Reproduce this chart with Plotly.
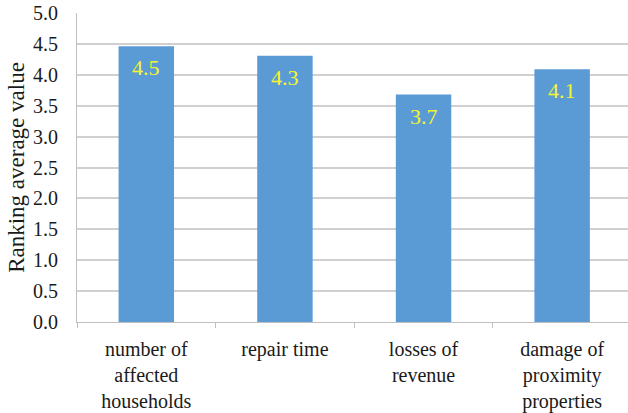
import plotly.graph_objects as go

categories = ["number of<br>affected<br>households", "repair time",
              "losses of<br>revenue", "damage of<br>proximity<br>properties"]
values = [4.46, 4.31, 3.68, 4.09]
labels = ["4.5", "4.3", "3.7", "4.1"]
y_ticks = [0, 0.5, 1.0, 1.5, 2.0, 2.5, 3.0, 3.5, 4.0, 4.5, 5.0]

SERIF = "Times New Roman, Liberation Serif, DejaVu Serif, Noto Serif, serif"

fig = go.Figure()
fig.add_trace(go.Bar(x=categories, y=values, width=0.4,
                     marker=dict(color="#5b9bd5", line=dict(width=0)),
                     hoverinfo="skip"))

for c, v, t in zip(categories, values, labels):
    fig.add_annotation(x=c, y=v, text=t, showarrow=False, yanchor="top",
                       yshift=-7,
                       font=dict(family=SERIF, size=22, color="#f5f530"))

fig.update_layout(
    width=628, height=413,
    margin=dict(l=77, r=0, t=13, b=91, autoexpand=False),
    plot_bgcolor="white", paper_bgcolor="white",
    showlegend=False,
    font=dict(family=SERIF, color="#222222"),
)
fig.update_xaxes(
    range=[-0.5, 3.475], automargin=False,
    showline=True, linecolor="#bfbfbf", linewidth=1,
    ticks="outside", tickson="boundaries", ticklen=5, tickcolor="#bfbfbf",
    ticklabelstandoff=9,
    tickfont=dict(family=SERIF, size=20, color="#1a1a1a"),
    showgrid=False,
)
fig.update_yaxes(
    range=[0, 5.0], tickvals=y_ticks, ticktext=[f"{t:.1f}" for t in y_ticks],
    automargin=False,
    showline=True, linecolor="#bfbfbf", linewidth=1,
    showgrid=True, gridcolor="#d0d0d0", gridwidth=1.5,
    zeroline=False,
    ticks="", ticklabelstandoff=14,
    tickfont=dict(family=SERIF, size=20, color="#1a1a1a"),
    title=dict(text="Ranking average value", standoff=1,
               font=dict(family=SERIF, size=23, color="#1a1a1a")),
)

fig.write_html("out.html", config={"displayModeBar": False},
               post_script="document.body.style.margin='0';document.body.style.padding='0';")
